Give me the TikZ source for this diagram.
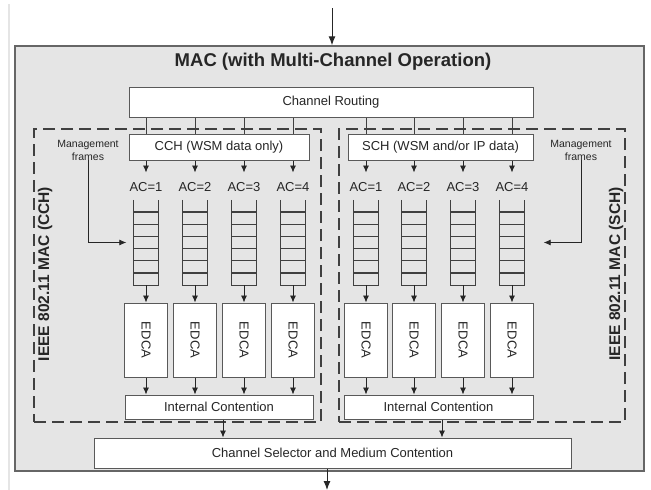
\documentclass[tikz,border=0pt]{standalone}
\usepackage{fontspec}
\setmainfont{Liberation Sans}
\usetikzlibrary{arrows.meta, positioning, calc}

\begin{document}
\begin{tikzpicture}[
    x=1pt, y=-1pt,
    every node/.style={inner sep=0pt, text=black!85},
    box/.style={
        rectangle, draw=black!65, fill=white, line width=1pt,
        font=\fontsize{13}{15}\selectfont
    },
    edca/.style={box, minimum width=43pt, minimum height=74pt},
    macarea/.style={rectangle, draw=black!75, dash pattern=on 12pt off 6pt, line width=1.8pt},
    queue/.style={rectangle, minimum width=25pt, minimum height=85pt},
    qline/.style={black!75, line width=1.1pt},
    link/.style={black!75, line width=0.8pt},
    arrow/.style={-{Latex[length=7pt, width=6pt]}, line width=0.8pt, black!85},
    bigarrow/.style={-{Latex[length=9pt, width=7pt]}, line width=1pt, black!85},
    aclabel/.style={font=\fontsize{13}{15}\selectfont},
    mgmt/.style={font=\fontsize{10.5}{13}\selectfont, align=center},
    side/.style={font=\bfseries\fontsize{15.5}{18}\selectfont, rotate=90},
]

\useasboundingbox (0,0) rectangle (651,490);
\draw[black!10, line width=1.5pt] (9,4) -- (9,490);

% Outer MAC block
\node[rectangle, draw=black!60, fill=black!10, line width=1.5pt,
      minimum width=629pt, minimum height=425pt] (mac) at (329.5,258.5) {};
\node[font=\bfseries\fontsize{18.5}{22}\selectfont] (title) at (333,62) {MAC (with Multi-Channel Operation)};

% Dashed MAC areas
\node[macarea, minimum width=287pt, minimum height=293pt] (cchmac) at (177.5,275.5) {};
\node[macarea, minimum width=286pt, minimum height=293pt] (schmac) at (482,275.5) {};
\node[side] (cchlab) at (45,274) {IEEE 802.11 MAC (CCH)};
\node[side] (schlab) at (616,274) {IEEE 802.11 MAC (SCH)};

% Boxes
\node[box, minimum width=404pt, minimum height=30pt] (routing) at (331,102) {Channel Routing};
\node[box, minimum width=180pt, minimum height=26pt] (cch) at (219,147) {CCH (WSM data only)};
\node[box, minimum width=185pt, minimum height=26pt] (sch) at (440.5,147) {SCH (WSM and/or IP data)};
\node[box, minimum width=188pt, minimum height=24pt] (icc) at (219,407) {Internal Contention};
\node[box, minimum width=189pt, minimum height=24pt] (isc) at (438.5,407) {Internal Contention};
\node[box, minimum width=477pt, minimum height=30pt] (sel) at (332.5,453) {Channel Selector and Medium Contention};

% Access categories, queues and EDCA functions
\foreach \ch/\top/\ic/\cols in {c/cch/icc/{1/146,2/195,3/244,4/293}, s/sch/isc/{1/366,2/414,3/463,4/512}} {
    \foreach \n/\x in \cols {
        \node[aclabel] (ac\ch\n) at (\x,187) {AC=\n};
        \node[queue] (q\ch\n) at (\x,242.5) {};
        \node[edca] (e\ch\n) at (\x,340) {\rotatebox{-90}{EDCA}};

        \draw[link] (routing.south -| q\ch\n) -- (\top.north -| q\ch\n);
        \draw[arrow] (\top.south -| q\ch\n) -- ($(\top.south -| q\ch\n)+(0,12)$);
        \draw[qline] (q\ch\n.north west) -- (q\ch\n.south west) -- (q\ch\n.south east) -- (q\ch\n.north east);
        \foreach \k in {1,...,6}
            \draw[qline] ($(q\ch\n.north west)!\k/7!(q\ch\n.south west)$) -- ($(q\ch\n.north east)!\k/7!(q\ch\n.south east)$);
        \draw[arrow] (q\ch\n.south) -- (e\ch\n.north);
        \draw[arrow] (e\ch\n.south) -- (\ic.north -| e\ch\n);
    }
}

% Management frames
\node[mgmt] (mgc) at (88,150) {Management\\frames};
\node[mgmt] (mgs) at (581,150) {Management\\frames};
\draw[arrow] (mgc.south) |- ([xshift=-7pt]qc1.west);
\draw[arrow] (mgs.south) |- ([xshift=19pt]qs4.east);

% Into the channel selector
\draw[arrow] ([xshift=4pt]icc.south) -- ([xshift=4pt]icc.south |- sel.north);
\draw[arrow] ([xshift=3.5pt]isc.south) -- ([xshift=3.5pt]isc.south |- sel.north);

% In and out
\coordinate (in) at (332,8);
\coordinate (out) at (327,490);
\draw[bigarrow] (in) -- (in |- mac.north);
\draw[bigarrow] (sel.south -| out) -- (out);

\end{tikzpicture}
\end{document}
